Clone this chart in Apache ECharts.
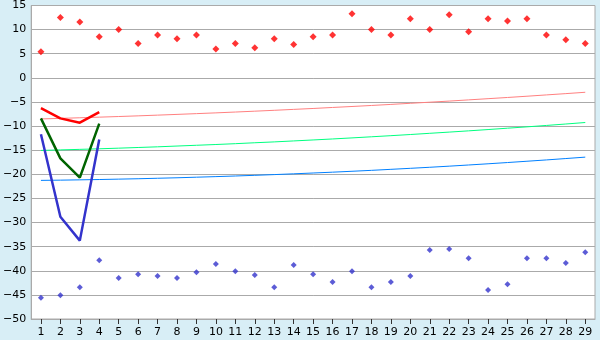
<!DOCTYPE html>
<html>
<head>
<meta charset="utf-8">
<script src="https://cdn.jsdelivr.net/npm/echarts@6/dist/echarts.min.js"></script>
<style>
html,body{margin:0;padding:0;background:#d8eef6;}
#c{width:600px;height:340px;}
</style>
</head>
<body>
<div id="c"></div>
<script>
var categories = ['1','2','3','4','5','6','7','8','9','10','11','12','13','14','15','16','17','18','19','20','21','22','23','24','25','26','27','28','29'];
var redPoints = [5.4,12.5,11.6,8.5,10.0,7.1,8.9,8.1,8.9,6.0,7.1,6.25,8.1,6.9,8.5,8.9,13.3,10.0,8.9,12.25,10.0,13.1,9.55,12.25,11.8,12.25,8.9,7.9,7.1];
var bluePoints = [-45.6,-45.05,-43.4,-37.8,-41.5,-40.7,-41.1,-41.5,-40.3,-38.6,-40.1,-40.9,-43.4,-38.8,-40.7,-42.35,-40.1,-43.4,-42.35,-41.1,-35.7,-35.5,-37.4,-44.0,-42.8,-37.4,-37.4,-38.4,-36.15];
var redThick = [-6.3,-8.4,-9.3,-7.1];
var greenThick = [-8.4,-16.7,-20.7,-9.5];
var blueThick = [-11.7,-28.8,-33.75,-12.8];
var redThin = [-8.52,-8.40,-8.28,-8.15,-8.02,-7.88,-7.73,-7.58,-7.42,-7.26,-7.09,-6.91,-6.73,-6.54,-6.35,-6.14,-5.94,-5.73,-5.51,-5.28,-5.05,-4.82,-4.57,-4.32,-4.07,-3.81,-3.54,-3.27,-2.99];
var greenThin = [-15.05,-14.94,-14.83,-14.71,-14.58,-14.44,-14.30,-14.14,-13.98,-13.82,-13.65,-13.46,-13.28,-13.08,-12.88,-12.67,-12.45,-12.22,-11.99,-11.75,-11.50,-11.25,-10.99,-10.72,-10.44,-10.16,-9.87,-9.57,-9.26];
var blueThin = [-21.26,-21.21,-21.15,-21.08,-21.00,-20.92,-20.82,-20.72,-20.60,-20.48,-20.35,-20.21,-20.06,-19.90,-19.73,-19.56,-19.37,-19.18,-18.97,-18.76,-18.54,-18.31,-18.07,-17.82,-17.56,-17.29,-17.02,-16.73,-16.44];

function pad(arr){ var o = arr.slice(); while(o.length < categories.length) o.push(null); return o; }

var chart = echarts.init(document.getElementById('c'), null, {renderer:'canvas'});
var font = 'DejaVu Sans';
chart.setOption({
  backgroundColor: '#d8eef6',
  animation: false,
  grid: {left:26, right:5, top:5, bottom:21, show:true, backgroundColor:'#ffffff', borderColor:'#aaaaaa', borderWidth:1},
  xAxis: {
    type:'category', data:categories, boundaryGap:true,
    axisLine:{show:true, onZero:false, lineStyle:{color:'#aaaaaa'}},
    axisTick:{show:true, alignWithLabel:true, length:5, lineStyle:{color:'#333333'}},
    axisLabel:{color:'#000', fontFamily:font, fontSize:11, margin:8, interval:0},
    splitLine:{show:false}
  },
  yAxis: {
    type:'value', min:-50, max:15, interval:5,
    axisLine:{show:true, lineStyle:{color:'#aaaaaa'}},
    axisTick:{show:false},
    axisLabel:{color:'#000', fontFamily:font, fontSize:11, margin:5,
      formatter:function(v){ return String(v).replace('-', '\u2212'); }},
    splitLine:{show:true, lineStyle:{color:'#aaaaaa', width:1}}
  },
  series: [
    {type:'line', data:redThin, symbol:'none', lineStyle:{color:'#ff8080', width:1}},
    {type:'line', data:greenThin, symbol:'none', lineStyle:{color:'#00ff80', width:1}},
    {type:'line', data:blueThin, symbol:'none', lineStyle:{color:'#0080ff', width:1}},
    {type:'line', data:pad(redThick), symbol:'none', lineStyle:{color:'#ff0000', width:2.5}},
    {type:'line', data:pad(greenThick), symbol:'none', lineStyle:{color:'#006400', width:2.5}},
    {type:'line', data:pad(blueThick), symbol:'none', lineStyle:{color:'#3333cc', width:2.5}},
    {type:'scatter', data:redPoints, symbol:'diamond', symbolSize:7, itemStyle:{color:'#ff0000'}},
    {type:'scatter', data:bluePoints, symbol:'diamond', symbolSize:6, itemStyle:{color:'#3333cc'}}
  ]
});
</script>
</body>
</html>
